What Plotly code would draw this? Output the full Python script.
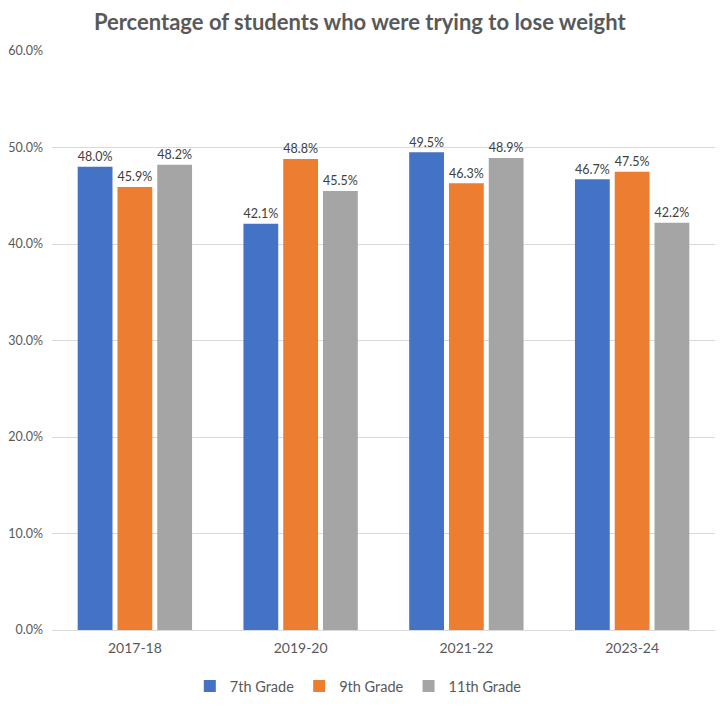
import plotly.graph_objects as go

categories = ["2017-18", "2019-20", "2021-22", "2023-24"]
grade7 = [48.0, 42.1, 49.5, 46.7]
grade9 = [45.9, 48.8, 46.3, 47.5]
grade11 = [48.2, 45.5, 48.9, 42.2]
series_names = ["7th Grade", "9th Grade", "11th Grade"]
colors = ["#4472C4", "#ED7D31", "#A5A5A5"]

FONT = "Lato, Carlito, sans-serif"

fig = go.Figure()
for name, vals, col in zip(series_names, [grade7, grade9, grade11], colors):
    fig.add_trace(go.Bar(
        x=categories, y=vals, name=name, marker_color=col,
        marker_line_width=0,
        text=[f"{v:.1f}%" for v in vals], textposition="outside",
        textfont=dict(size=14, color="#404040", family=FONT),
        cliponaxis=False,
    ))

# page body has an 8px default margin, so the figure is sized/offset to compensate
fig.update_layout(
    width=715, height=699,
    margin=dict(l=44, r=8, t=43, b=77, autoexpand=False),
    paper_bgcolor="white", plot_bgcolor="white",
    barmode="group", bargap=0.28, bargroupgap=0.125,
    title=dict(text="<b>Percentage of students who were trying to lose weight</b>",
               x=0.492, xanchor="center", y=0.98, yanchor="middle",
               font=dict(size=22, color="#595959", family=FONT)),
    font=dict(family=FONT, color="#595959", size=12),
    legend=dict(orientation="h", x=0.462, xanchor="center", y=-0.097, yanchor="middle",
                font=dict(size=14.5, color="#595959"), itemwidth=30, traceorder="normal"),
    showlegend=True,
)
fig.update_yaxes(range=[0, 60], dtick=10, tickformat=".1f", ticksuffix="%",
                 showgrid=True, gridcolor="#D9D9D9", gridwidth=1, automargin=False,
                 zeroline=False, showline=False, ticks="", ticklabelstandoff=8,
                 tickfont=dict(size=12.5, color="#595959"))
fig.update_xaxes(showline=True, linecolor="#D9D9D9", linewidth=1, ticks="", automargin=False,
                 ticklabelstandoff=5,
                 tickfont=dict(size=14, color="#595959"))

fig.write_html("out.html")
